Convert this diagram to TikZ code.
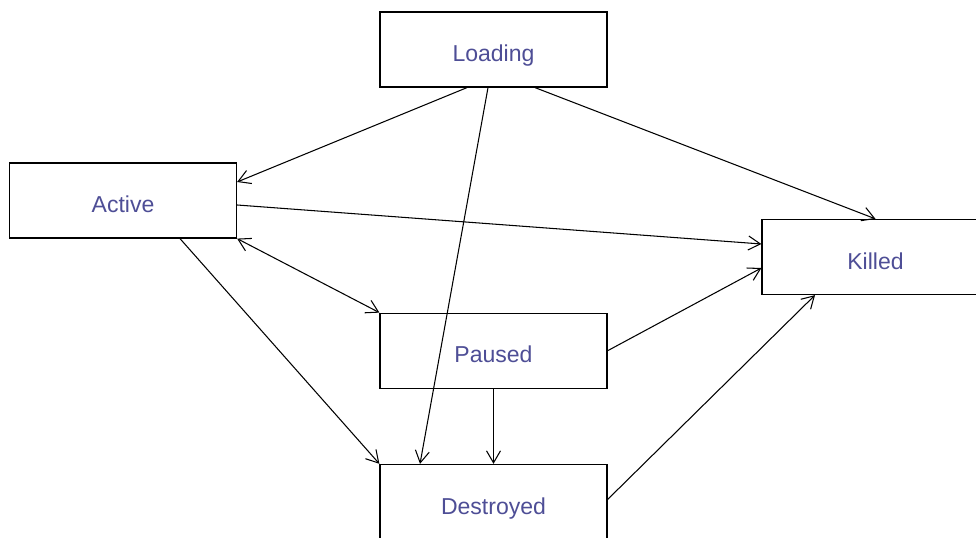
\documentclass[tikz,border=0pt]{standalone}
\usepackage{fontspec}
\setmainfont{Liberation Sans}
\usepackage{xcolor}
\usetikzlibrary{arrows.meta, positioning}
\definecolor{statetext}{RGB}{78,78,150}

\begin{document}
\begin{tikzpicture}[
    font=\fontsize{13.1pt}{15pt}\selectfont,
    state/.style={draw, line width=0.7pt, fill=white, text=statetext, minimum width=4.54cm, minimum height=1.5cm, text height=0.49cm, text depth=0cm, inner sep=0pt},
    tip/.tip={Straight Barb[length=2.4mm, width=2.8mm]},
    trans/.style={line width=0.6pt, -tip}
]
    \useasboundingbox (0,0) rectangle (19.52,10.74);
    \node[state] (loading) at (9.87,9.75) {Loading};
    \node[state] (active) at (2.46,6.73) {Active};
    \node[state] (killed) at (17.51,5.60) {Killed};
    \node[state, below=4.50cm of loading] (paused) {Paused};
    \node[state, below=1.50cm of paused] (destroyed) {Destroyed};
    % from loading
    \draw[trans] ([xshift=-0.53cm]loading.south) -- ([yshift=0.37cm]active.east);
    \draw[trans] ([xshift=0.83cm]loading.south) -- (killed.north);
    \draw[trans] ([xshift=-0.11cm]loading.south) -- ([xshift=-1.47cm]destroyed.north);
    % from active
    \draw[trans] ([yshift=-0.09cm]active.east) -- ([yshift=0.26cm]killed.west);
    \draw[trans, tip-tip] (active.south east) -- (paused.north west);
    \draw[trans] ([xshift=1.14cm]active.south) -- (destroyed.north west);
    % from paused and destroyed
    \draw[trans] (paused) -- (destroyed);
    \draw[trans] (paused.east) -- ([yshift=-0.22cm]killed.west);
    \draw[trans] ([yshift=0.05cm]destroyed.east) -- ([xshift=-1.21cm]killed.south);
\end{tikzpicture}
\end{document}
